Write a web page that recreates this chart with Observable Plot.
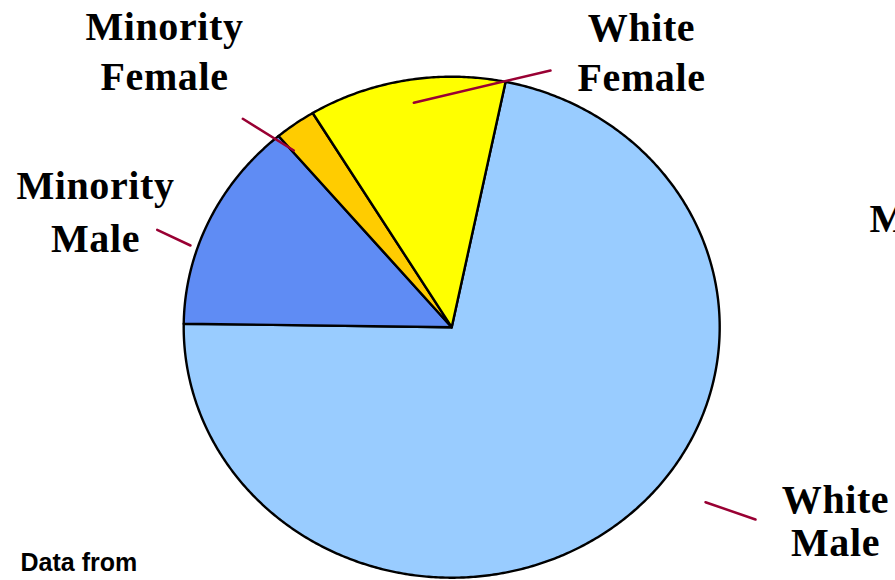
<!DOCTYPE html>
<html>
<head>
<meta charset="utf-8">
<script src="https://cdn.jsdelivr.net/npm/d3@7"></script>
<script src="https://cdn.jsdelivr.net/npm/@observablehq/plot@0.6"></script>
<style>
  html, body { margin: 0; padding: 0; background: #fff; overflow: hidden; }
  .serif-label text { letter-spacing: 0.6px; }
</style>
</head>
<body>
<div id="chart"></div>
<script>
// Share of each group (percent), in pie order, clockwise
const groups = ["White Male", "Minority Male", "Minority Female", "White Female"];
const shares = [72.0, 13.6, 2.5, 11.9];
const labelLines = [["White", "Male"], ["Minority", "Male"], ["Minority", "Female"], ["White", "Female"]];
const note = "Data from";
const edgeText = "M";

// Layout (pixels)
const W = 895, H = 580;
const cx = 451.2, cy = 326.7, rx = 268, ry = 250.5;
const startDeg = 11.6;
const fills = ["#99CCFF", "url(#check-blue)", "url(#check-orange)", "#FFFF00"];
const labelPos = [
  {x: 835, y: [512, 555]},
  {x: 95, y: [198.5, 251]},
  {x: 164, y: [39.5, 89.5]},
  {x: 641, y: [40, 90]}
];
const leaderPos = [
  [[705, 501.7], [755, 519]],
  [[156.7, 229.3], [190, 245]],
  [[242.3, 118.3], [293.3, 150]],
  [[413.3, 102.3], [550, 70]]
];

// pixel -> unit coordinates of the pie scales
const ux = px => (px - cx) / rx;
const uy = py => (cy - py) / ry;

// slice outlines: centre, sampled arc, back to centre
const start = startDeg * Math.PI / 180;
const arcs = d3.pie().sort(null).value(d => d).startAngle(start).endAngle(start + 2 * Math.PI)(shares);
const slicePts = [];
arcs.forEach((a, i) => {
  const g = groups[i];
  slicePts.push({g, x: 0, y: 0});
  const n = Math.max(4, Math.ceil((a.endAngle - a.startAngle) / (Math.PI / 360)));
  for (let k = 0; k <= n; k++) {
    const t = a.startAngle + (a.endAngle - a.startAngle) * k / n;
    slicePts.push({g, x: Math.sin(t), y: Math.cos(t)});
  }
  slicePts.push({g, x: 0, y: 0});
});

const leaderPts = [];
leaderPos.forEach((seg, i) => seg.forEach(([px, py]) => leaderPts.push({g: groups[i], x: ux(px), y: uy(py)})));

const labelRows = [];
labelLines.forEach((lines, i) => lines.forEach((t, j) => labelRows.push({text: t, x: ux(labelPos[i].x), y: uy(labelPos[i].y[j])})));

const svg = Plot.plot({
  width: W,
  height: H,
  margin: 0,
  style: {background: "#fff", overflow: "hidden"},
  x: {domain: [-1, 1], range: [cx - rx, cx + rx], axis: null},
  y: {domain: [-1, 1], range: [cy + ry, cy - ry], axis: null},
  color: {type: "ordinal", domain: groups, range: fills},
  marks: [
    Plot.line(slicePts, {x: "x", y: "y", z: "g", fill: "g", stroke: "#000", strokeWidth: 2.4, strokeLinejoin: "round"}),
    Plot.line(leaderPts, {x: "x", y: "y", z: "g", stroke: "#990033", strokeWidth: 2.5}),
    Plot.text(labelRows, {x: "x", y: "y", text: "text", textAnchor: "middle", lineAnchor: "bottom",
      fontFamily: "Liberation Serif", fontWeight: "bold", fontSize: 40, fill: "#000", className: "serif-label"}),
    Plot.text([edgeText], {x: ux(869), y: uy(231), text: d => d, textAnchor: "start", lineAnchor: "bottom",
      fontFamily: "Liberation Serif", fontWeight: "bold", fontSize: 40, fill: "#000"}),
    Plot.text([note], {x: ux(20), y: uy(570), text: d => d, textAnchor: "start", lineAnchor: "bottom",
      fontFamily: "Liberation Sans", fontWeight: "bold", fontSize: 25, fill: "#000"})
  ]
});

// fine checker fills for the two minority slices
const defs = d3.select(svg).insert("defs", ":first-child");
function checker(id, a, b) {
  const p = defs.append("pattern").attr("id", id).attr("patternUnits", "userSpaceOnUse")
    .attr("width", 2).attr("height", 2);
  p.append("rect").attr("width", 2).attr("height", 2).attr("fill", a);
  p.append("rect").attr("width", 1).attr("height", 1).attr("fill", b);
  p.append("rect").attr("x", 1).attr("y", 1).attr("width", 1).attr("height", 1).attr("fill", b);
}
checker("check-blue", "#2F5FE8", "#8FB8FF");
checker("check-orange", "#FF9900", "#FFFF00");

document.getElementById("chart").appendChild(svg);
</script>
</body>
</html>
